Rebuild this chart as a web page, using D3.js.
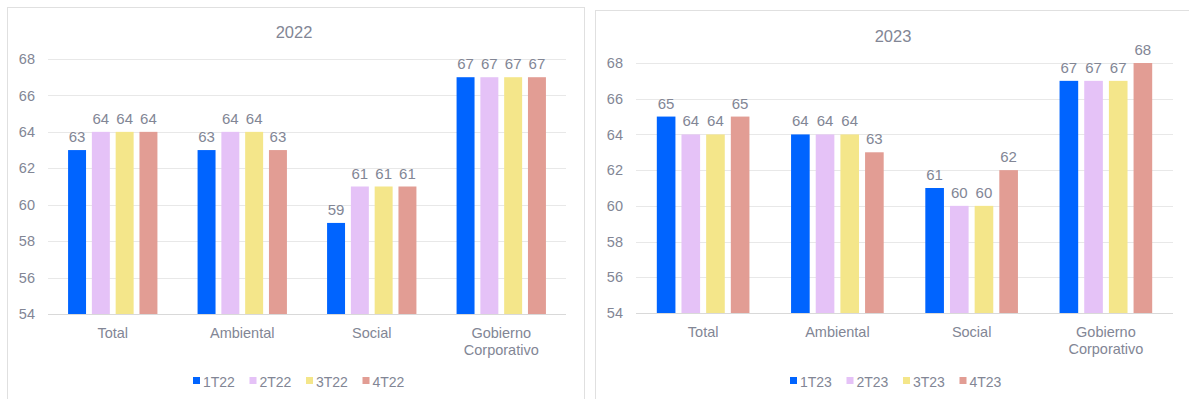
<!DOCTYPE html>
<html>
<head>
<meta charset="utf-8">
<script src="https://cdn.jsdelivr.net/npm/d3@7"></script>
<style>
  html, body { margin: 0; padding: 0; background: #ffffff; }
  svg { display: block; font-family: "Liberation Sans", Arial, sans-serif; }
</style>
</head>
<body>
<svg id="chart" width="1189" height="399"></svg>
<script>
// ---- Data ----
const categories = ["Total", "Ambiental", "Social", "Gobierno Corporativo"];
const yTicks = [54, 56, 58, 60, 62, 64, 66, 68];

const title2022 = "2022";
const series2022 = ["1T22", "2T22", "3T22", "4T22"];
const values1T22 = [63, 63, 59, 67];
const values2T22 = [64, 64, 61, 67];
const values3T22 = [64, 64, 61, 67];
const values4T22 = [64, 63, 61, 67];

const title2023 = "2023";
const series2023 = ["1T23", "2T23", "3T23", "4T23"];
const values1T23 = [65, 64, 61, 67];
const values2T23 = [64, 64, 60, 67];
const values3T23 = [64, 64, 60, 67];
const values4T23 = [65, 63, 62, 68];

const colors = ["#0064ff", "#e5c2f7", "#f4e68a", "#e29d94"];
const textColor = "#828695";

const svg = d3.select("#chart");

function drawPanel(opt) {
  const g = svg.append("g");
  // panel border
  g.append("rect")
    .attr("x", opt.box[0] + 0.5).attr("y", opt.box[1] + 0.5)
    .attr("width", opt.box[2]).attr("height", opt.box[3])
    .attr("fill", "#fff").attr("stroke", "#e0e0e0").attr("stroke-width", 1);

  const x0 = d3.scaleBand().domain(opt.categories)
    .range([opt.left, opt.right]).paddingInner(0.31).paddingOuter(0.155);
  const x1 = d3.scaleBand().domain(opt.series)
    .range([0, x0.bandwidth()]).paddingInner(0.245).paddingOuter(0);
  const y = d3.scaleLinear().domain([54, 68]).range([opt.bottom, opt.top]);

  // gridlines
  g.append("g").selectAll("line").data(opt.ticks).join("line")
    .attr("x1", opt.left).attr("x2", opt.right)
    .attr("y1", d => Math.round(y(d)) + 0.5).attr("y2", d => Math.round(y(d)) + 0.5)
    .attr("stroke", d => d === 54 ? "#d9d9d9" : "#e8e8e8").attr("stroke-width", 1);

  // y axis labels
  const yAxis = d3.axisLeft(y).tickValues(opt.ticks).tickSize(0).tickPadding(0);
  const ya = g.append("g").attr("transform", `translate(${opt.yLabelX},0)`).call(yAxis);
  ya.select(".domain").remove();
  ya.selectAll("text").attr("fill", textColor).style("font-size", "14.5px")
    .style("font-family", "'Liberation Sans', Arial, sans-serif");

  // bars
  const rows = opt.categories.map((c, i) => ({
    cat: c,
    vals: opt.series.map((s, j) => ({ s, v: opt.values[j][i], j }))
  }));
  const grp = g.append("g").selectAll("g").data(rows).join("g")
    .attr("transform", d => `translate(${x0(d.cat)},0)`);
  grp.selectAll("rect").data(d => d.vals).join("rect")
    .attr("x", d => x1(d.s)).attr("width", x1.bandwidth())
    .attr("y", d => y(d.v)).attr("height", d => y(54) - y(d.v))
    .attr("fill", d => colors[d.j]);
  grp.selectAll("text").data(d => d.vals).join("text")
    .attr("x", d => x1(d.s) + x1.bandwidth() / 2)
    .attr("y", d => y(d.v) - 8)
    .attr("text-anchor", "middle").attr("fill", textColor)
    .style("font-size", "15px").text(d => d.v);

  // category labels
  const xAxis = d3.axisBottom(x0).tickSize(0).tickPadding(0);
  const xa = g.append("g").attr("transform", `translate(0,${opt.bottom})`).call(xAxis);
  xa.select(".domain").remove();
  xa.selectAll("text").each(function(d) {
    const t = d3.select(this);
    t.text(null).attr("y", 0).attr("dy", null)
      .attr("fill", textColor).style("font-size", "14.5px")
      .style("font-family", "'Liberation Sans', Arial, sans-serif");
    const words = d === "Gobierno Corporativo" ? ["Gobierno", "Corporativo"] : [d];
    words.forEach((w, k) => {
      t.append("tspan").attr("x", 0).attr("y", opt.catBaseline + k * 17).text(w);
    });
  });

  // title
  g.append("text").attr("x", opt.titleX).attr("y", opt.titleY)
    .attr("text-anchor", "middle").attr("fill", textColor)
    .style("font-size", "16.5px").text(opt.title);

  // legend
  const itemStep = 56.5;
  const lg = g.append("g").selectAll("g").data(opt.series).join("g")
    .attr("transform", (d, i) => `translate(${opt.legendX + i * itemStep},${opt.legendY})`);
  lg.append("rect").attr("x", 0).attr("y", -9.5).attr("width", 7).attr("height", 7)
    .attr("fill", (d, i) => colors[i]);
  lg.append("text").attr("x", 10).attr("y", 0).attr("fill", textColor)
    .style("font-size", "14px").text(d => d);
}

drawPanel({
  box: [7, 7, 577, 400],
  left: 48, right: 566, top: 59, bottom: 314,
  yLabelX: 35, catBaseline: 24,
  titleX: 294, titleY: 37.5, title: title2022,
  legendX: 193, legendY: 386.5,
  categories, ticks: yTicks, series: series2022,
  values: [values1T22, values2T22, values3T22, values4T22]
});

drawPanel({
  box: [595, 10, 600, 400],
  left: 636, right: 1173, top: 63, bottom: 313,
  yLabelX: 623, catBaseline: 24,
  titleX: 893, titleY: 41.5, title: title2023,
  legendX: 790, legendY: 386.5,
  categories, ticks: yTicks, series: series2023,
  values: [values1T23, values2T23, values3T23, values4T23]
});
</script>
</body>
</html>
